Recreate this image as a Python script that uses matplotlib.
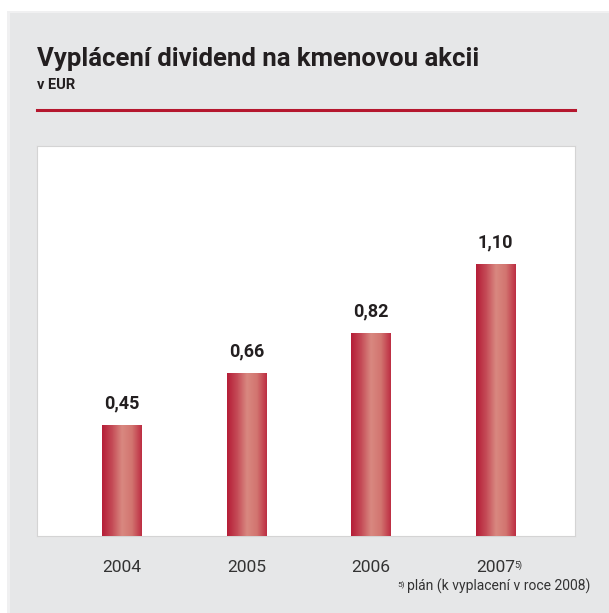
import matplotlib
matplotlib.use("Agg")
import matplotlib.pyplot as plt
import numpy as np
from matplotlib.colors import LinearSegmentedColormap
from matplotlib.patches import Rectangle

years = ["2004", "2005", "2006", "2007"]
values = [0.45, 0.66, 0.82, 1.10]
value_labels = ["0,45", "0,66", "0,82", "1,10"]
title = "Vyplácení dividend na kmenovou akcii"
subtitle = "v EUR"
footnote = "plán (k vyplacení v roce 2008)"

plt.rcParams['font.family'] = ['Roboto', 'DejaVu Sans']

W, H = 609, 613
fig = plt.figure(figsize=(W/100, H/100), dpi=100)
fig.patch.set_facecolor("white")

def fx(x): return x / W
def fy(y): return 1 - y / H

# gray panel with faint shadow
fig.add_artist(Rectangle((fx(7), 0), 1 - fx(7), fy(11), transform=fig.transFigure,
                         facecolor="#f0f0f1", edgecolor="none", zorder=-6))
fig.add_artist(Rectangle((fx(10), 0), 1 - fx(10), fy(13), transform=fig.transFigure,
                         facecolor="#e6e7e8", edgecolor="none", zorder=-5))
# title
fig.text(fx(37), fy(66), title, fontsize=18.5, fontweight="bold", color="#231f20", va="baseline")
fig.text(fx(37), fy(89), subtitle, fontsize=10.5, fontweight="bold", color="#231f20", va="baseline")
# red rule
fig.add_artist(plt.Line2D([fx(37), fx(575)], [fy(110), fy(110)], transform=fig.transFigure,
                          color="#b5172e", lw=2.2))

ax = fig.add_axes([fx(37), fy(536), fx(575) - fx(37), (536 - 146) / H])
ax.set_zorder(2)
ax.set_facecolor("white")
for s in ax.spines.values():
    s.set_color("#d4d4d4")
    s.set_linewidth(0.8)

x = np.arange(len(years))
bars = ax.bar(x, values, width=0.313, color="#c0283e", zorder=2)
cmap = LinearSegmentedColormap.from_list("g", ["#b51d37", "#c44a56", "#d98880", "#d27570", "#bd2d42"])
grad = np.linspace(0, 1, 256).reshape(1, -1)
for b in bars:
    x0, w, h = b.get_x(), b.get_width(), b.get_height()
    im = ax.imshow(grad, cmap=cmap, extent=[x0, x0 + w, 0, h], aspect="auto", zorder=3)
    im.set_clip_path(b)

ax.set_xlim(-0.678, 3.636)
ax.set_ylim(0, 1.577)
for xi, v, lab in zip(x, values, value_labels):
    ax.annotate(lab, (xi, v), xytext=(0, 9), textcoords="offset points", ha="center",
                va="bottom", fontsize=13, fontweight="bold", color="#231f20")
ax.set_xticks(x)
ax.set_xticklabels(years, fontsize=12.5, color="#333333")
ax.tick_params(axis="x", length=0, pad=17)
ax.set_yticks([])

fn = fig.text(fx(590), fy(591), footnote, fontsize=10, color="#333333", ha="right", va="baseline")

fig.canvas.draw()
r = fig.canvas.get_renderer()
tl = ax.get_xticklabels()[-1]
bb = tl.get_window_extent(r)
fig.text((bb.x1 - 1) / W, (bb.y1 - 8) / H, "5)", fontsize=6.5, color="#333333", va="baseline")
bb2 = fn.get_window_extent(r)
fig.text((bb2.x0 - 2) / W, fy(587), "5)", fontsize=6, color="#333333", ha="right", va="baseline")

fig.savefig("out.png", dpi=100)
